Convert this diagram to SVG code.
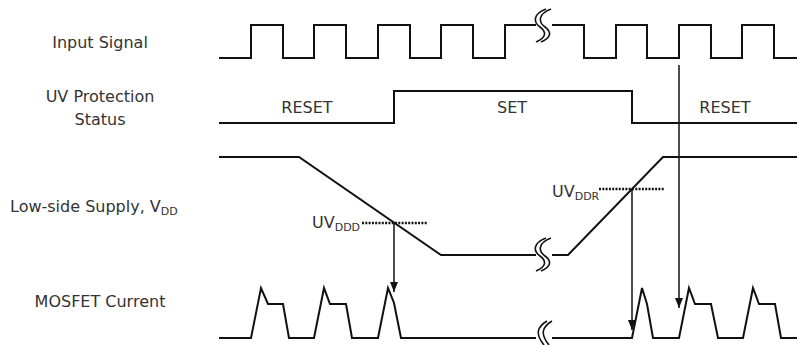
<svg xmlns="http://www.w3.org/2000/svg" width="798" height="345" viewBox="0 0 798 345">
<style>
.lbl{font-family:"DejaVu Sans","Liberation Sans",sans-serif;font-size:16px;fill:#333}
.sig{fill:none;stroke:#111;stroke-width:2;stroke-linejoin:miter}
.dot{fill:none;stroke:#111;stroke-width:2.5;stroke-dasharray:2 1.3}
.arr{fill:none;stroke:#111;stroke-width:1.5}
.brk{fill:none;stroke:#111;stroke-width:1.6}
</style>
<defs>
<marker id="ah" viewBox="0 0 10 8" refX="10" refY="4" markerWidth="10" markerHeight="8" markerUnits="userSpaceOnUse" orient="auto">
<path d="M0,0 L10,4 L0,8 Z" fill="#111"/>
</marker>
</defs>
<rect width="798" height="345" fill="#fff"/>
<g id="labels">
<text class="lbl" x="100" y="48" text-anchor="middle">Input Signal</text>
<text class="lbl" x="100" y="102" text-anchor="middle">UV Protection</text>
<text class="lbl" x="100" y="125" text-anchor="middle">Status</text>
<text class="lbl" x="10" y="212">Low-side Supply, V<tspan font-size="11" dy="3">DD</tspan></text>
<text class="lbl" x="100" y="307" text-anchor="middle">MOSFET Current</text>
</g>
<g id="input-signal">
<path class="sig" d="M219,58 H251 V25 H283 V58 H314 V25 H346 V58 H378 V25 H410 V58 H441 V25 H473 V58 H505 V25 H584 V58 H616 V25 H647 V58 H679 V25 H711 V58 H742 V25 H774 V58 H797"/>
<rect x="536" y="20" width="16" height="11" fill="#fff"/>
<path class="brk" d="M546,9 C533,14 533,22 540,27 C547,32 546,38 536,42"/>
<path class="brk" d="M551,9 C538,14 538,22 545,27 C552,32 551,38 541,42"/>
</g>
<g id="uv-status">
<path class="sig" d="M219,123 H394 V91 H632 V123 H797"/>
<text class="lbl" x="307" y="113" text-anchor="middle">RESET</text>
<text class="lbl" x="512" y="113" text-anchor="middle">SET</text>
<text class="lbl" x="725" y="113" text-anchor="middle">RESET</text>
</g>
<g id="supply">
<path class="sig" d="M219,157 H299 L441,255 H568 L663,157 H797"/>
<rect x="536" y="250" width="16" height="11" fill="#fff"/>
<path class="brk" d="M546,238 C533,243 533,251 540,256 C547,261 546,267 536,271"/>
<path class="brk" d="M551,238 C538,243 538,251 545,256 C552,261 551,267 541,271"/>
<path class="dot" d="M362,223 H427"/>
<text class="lbl" x="312" y="228">UV<tspan font-size="11" dy="3">DDD</tspan></text>
<path class="dot" d="M599,189 H664"/>
<text class="lbl" x="552" y="197">UV<tspan font-size="11" dy="3">DDR</tspan></text>
</g>
<g id="mosfet">
<path class="sig" d="M219,338 H251 L261,288 L268,304 H283 L289,338 H314 L324,288 L330,304 H346 L352,338 H378 L388,288 L394,303 L401,338 H632 L642,288 L647,304 L653,338 H679 L689,288 L695,304 H711 L718,338 H743 L753,288 L759,304 H775 L781,338 H797"/>
<rect x="536" y="332" width="16" height="11" fill="#fff"/>
<path class="brk" d="M547,321 C537,327 535,334 544,345"/>
<path class="brk" d="M552,321 C542,327 540,334 549,345"/>
</g>
<g id="connectors">
<path class="arr" d="M394,224 V292" marker-end="url(#ah)"/>
<path class="arr" d="M632,190 V330" marker-end="url(#ah)"/>
<path class="arr" d="M679,65 V308" marker-end="url(#ah)"/>
</g>
</svg>
